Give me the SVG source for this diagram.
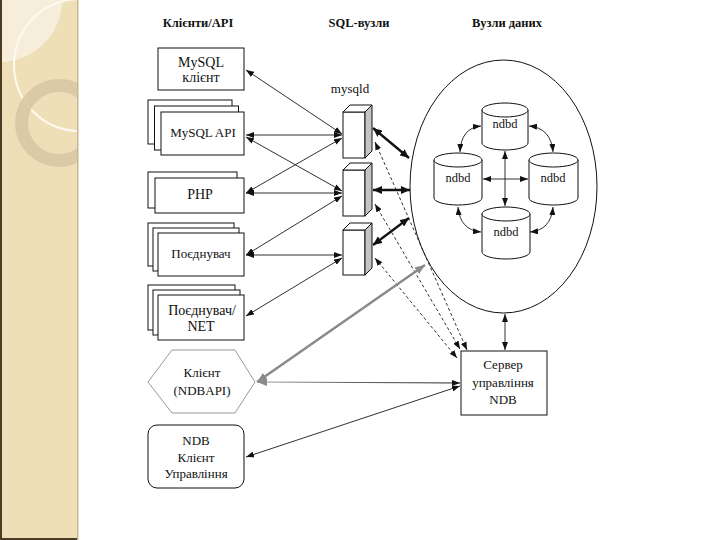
<svg xmlns="http://www.w3.org/2000/svg" width="720" height="540" viewBox="0 0 720 540">
<style>
.box{fill:#fff;stroke:#111;stroke-width:1}
.t{font-family:"Liberation Serif","Times New Roman",serif;font-size:13px;fill:#111;text-anchor:middle}
.h{font-family:"Liberation Serif","Times New Roman",serif;font-size:12.5px;font-weight:bold;fill:#111;text-anchor:middle}
.ln{fill:none;stroke:#1a1a1a;stroke-width:0.9;marker-start:url(#a);marker-end:url(#a)}
.thick{fill:none;stroke:#111;stroke-width:2.3;marker-start:url(#ab);marker-end:url(#ab)}
.dash{fill:none;stroke:#1a1a1a;stroke-width:0.9;stroke-dasharray:3,2.5;marker-start:url(#a);marker-end:url(#a)}
.gray{fill:none;stroke:#8a8a8a;stroke-width:2.5;marker-start:url(#ag);marker-end:url(#ag)}
.cyl{fill:#fff;stroke:#111;stroke-width:1}
</style>
<defs>
<marker id="a" viewBox="0 0 8 6" markerWidth="8" markerHeight="6" refX="8" refY="3" orient="auto-start-reverse" markerUnits="userSpaceOnUse"><path d="M0,0 L8,3 L0,6 z" fill="#111"/></marker>
<marker id="ab" viewBox="0 0 9 8" markerWidth="9" markerHeight="8" refX="9" refY="4" orient="auto-start-reverse" markerUnits="userSpaceOnUse"><path d="M0,0 L9,4 L0,8 z" fill="#111"/></marker>
<marker id="ag" viewBox="0 0 10 8" markerWidth="10" markerHeight="8" refX="10" refY="4" orient="auto-start-reverse" markerUnits="userSpaceOnUse"><path d="M0,0 L10,4 L0,8 z" fill="#8a8a8a"/></marker>
<linearGradient id="hg" gradientUnits="userSpaceOnUse" x1="257" y1="0" x2="460" y2="0"><stop offset="0" stop-color="#9a9a9a"/><stop offset="1" stop-color="#222"/></linearGradient>
<clipPath id="strip"><rect x="0" y="0" width="78" height="540"/></clipPath>
</defs>
<rect width="720" height="540" fill="#fff"/>
<g id="decor">
<rect x="0" y="0" width="78" height="540" fill="#efdfb9"/>
<g clip-path="url(#strip)">
<circle cx="0" cy="0" r="62" fill="#f6eedb"/>
<circle cx="80" cy="65" r="66" fill="none" stroke="#fffaf0" stroke-width="2"/>
<circle cx="59" cy="123" r="37.5" fill="none" stroke="#d6c7a2" stroke-width="13" opacity="0.85"/>
</g>
<rect x="0" y="0" width="2" height="540" fill="#4a3b22"/>
<rect x="0" y="538" width="78" height="2" fill="#4a3b22"/>
<rect x="77" y="0" width="1.5" height="540" fill="#c9b790"/>
</g>
<g id="headers">
<text class="h" x="198" y="27">Клієнти/API</text>
<text class="h" x="359" y="27">SQL-вузли</text>
<text class="h" x="507" y="27">Вузли даних</text>
</g>
<g id="n-mysql-client">
<rect class="box" x="158" y="48" width="86" height="42"/>
<text class="t" x="201" y="67" style="font-size:14px">MySQL</text>
<text class="t" x="201" y="82" style="font-size:14px">клієнт</text>
</g>
<g id="n-mysql-api">
<rect class="box" x="148" y="100" width="84" height="44"/>
<rect class="box" x="154.5" y="106" width="84" height="44"/>
<rect class="box" x="161" y="112" width="83" height="43"/>
<text class="t" x="203" y="137">MySQL API</text>
</g>
<g id="n-php">
<rect class="box" x="148" y="172" width="89" height="36"/>
<rect class="box" x="155" y="178" width="89" height="35"/>
<text class="t" x="200" y="199" style="font-size:14px">PHP</text>
</g>
<g id="n-connector">
<rect class="box" x="148" y="223" width="86" height="43"/>
<rect class="box" x="153" y="228" width="86" height="43"/>
<rect class="box" x="158" y="233" width="86" height="43"/>
<text class="t" x="201" y="258">Поєднувач</text>
</g>
<g id="n-connector-net">
<rect class="box" x="148" y="285" width="87" height="45"/>
<rect class="box" x="153" y="290" width="87" height="45"/>
<rect class="box" x="158" y="295" width="86" height="45"/>
<text class="t" x="202" y="315" style="font-size:14px">Поєднувач/</text>
<text class="t" x="201" y="331" style="font-size:14px">NET</text>
</g>
<g id="n-ndbapi">
<polygon points="148,382 172,350 235,350 255,382 235,413 172,413" fill="#fff" stroke="#999" stroke-width="1"/>
<text class="t" x="202" y="377">Клієнт</text>
<text class="t" x="202" y="395">(NDBAPI)</text>
</g>
<g id="n-ndb-mgm-client">
<rect class="box" x="148" y="425" width="96" height="63" rx="9"/>
<text class="t" x="196" y="445">NDB</text>
<text class="t" x="196" y="462">Клієнт</text>
<text class="t" x="196" y="478">Управління</text>
</g>
<g id="n-mysqld">
<text class="t" x="350" y="93">mysqld</text>
<g id="mysqld1">
<rect class="box" x="343" y="112" width="22" height="46"/>
<polygon points="343,112 350,105 372,105 365,112" fill="#fff" stroke="#111" stroke-width="1"/>
<polygon points="365,112 372,105 372,151 365,158" fill="#c4c4c4" stroke="#111" stroke-width="1"/>
</g>
<g id="mysqld2">
<rect class="box" x="343" y="170" width="22" height="46"/>
<polygon points="343,170 350,163 372,163 365,170" fill="#fff" stroke="#111" stroke-width="1"/>
<polygon points="365,170 372,163 372,209 365,216" fill="#c4c4c4" stroke="#111" stroke-width="1"/>
</g>
<g id="mysqld3">
<rect class="box" x="343" y="230" width="22" height="45"/>
<polygon points="343,230 350,223 372,223 365,230" fill="#fff" stroke="#111" stroke-width="1"/>
<polygon points="365,230 372,223 372,268 365,275" fill="#c4c4c4" stroke="#111" stroke-width="1"/>
</g>
</g>
<g id="n-data-nodes">
<ellipse cx="503.5" cy="186.5" rx="93.5" ry="126.5" fill="#fff" stroke="#111" stroke-width="1"/>
<g id="ndbd-top">
<path class="cyl" d="M482,110 L482,143 A23,7 0 0 0 528,143 L528,110"/>
<ellipse class="cyl" cx="505" cy="110" rx="23" ry="7"/>
<text class="t" x="505" y="128" style="font-size:12.5px">ndbd</text>
</g>
<g id="ndbd-left">
<path class="cyl" d="M434,160 L434,198 A24,7 0 0 0 482,198 L482,160"/>
<ellipse class="cyl" cx="458" cy="160" rx="24" ry="7"/>
<text class="t" x="458" y="182" style="font-size:12.5px">ndbd</text>
</g>
<g id="ndbd-right">
<path class="cyl" d="M529,160 L529,198 A24.5,7 0 0 0 578,198 L578,160"/>
<ellipse class="cyl" cx="553.5" cy="160" rx="24.5" ry="7"/>
<text class="t" x="553" y="182" style="font-size:12.5px">ndbd</text>
</g>
<g id="ndbd-bottom">
<path class="cyl" d="M482,214 L482,252 A24,7 0 0 0 530,252 L530,214"/>
<ellipse class="cyl" cx="506" cy="214" rx="24" ry="7"/>
<text class="t" x="506" y="236" style="font-size:12.5px">ndbd</text>
</g>
</g>
<g id="n-mgm-server">
<rect class="box" x="461" y="351" width="86" height="64"/>
<text class="t" x="503" y="369">Сервер</text>
<text class="t" x="503" y="387">управління</text>
<text class="t" x="503" y="404">NDB</text>
</g>
<g id="connectors">
<path class="ln" d="M246,70 L342,134"/>
<path class="ln" d="M246,135 L342,135"/>
<path class="ln" d="M246,137 L342,191"/>
<path class="ln" d="M246,193 L342,138"/>
<path class="ln" d="M246,193 L342,193"/>
<path class="ln" d="M246,255 L342,196"/>
<path class="ln" d="M246,255 L342,255"/>
<path class="ln" d="M246,316 L342,258"/>
<path class="thick" d="M373,128 L409,158"/>
<path class="thick" d="M373,190 L410,190"/>
<path class="thick" d="M373,245 L409,218"/>
<path class="dash" d="M375,142 L467,350"/>
<path class="dash" d="M375,204 L460,349"/>
<path class="dash" d="M375,258 L457,358"/>
<path class="gray" d="M257,382 L425,265"/>
<path d="M257,382 L460,383" fill="none" stroke="url(#hg)" stroke-width="1" marker-start="url(#ag)" marker-end="url(#a)"/>
<path class="ln" d="M246,457 L460,386"/>
<path class="ln" d="M505,314 L505,350"/>
<path class="ln" d="M505,151 L505,206"/>
<path class="ln" d="M483,179 L528,179"/>
<path class="ln" d="M481,126 Q461,128 460,152"/>
<path class="ln" d="M529,126 Q551,128 553,152"/>
<path class="ln" d="M458,207 Q460,230 481,232"/>
<path class="ln" d="M553,207 Q551,230 530,232"/>
</g>
</svg>
